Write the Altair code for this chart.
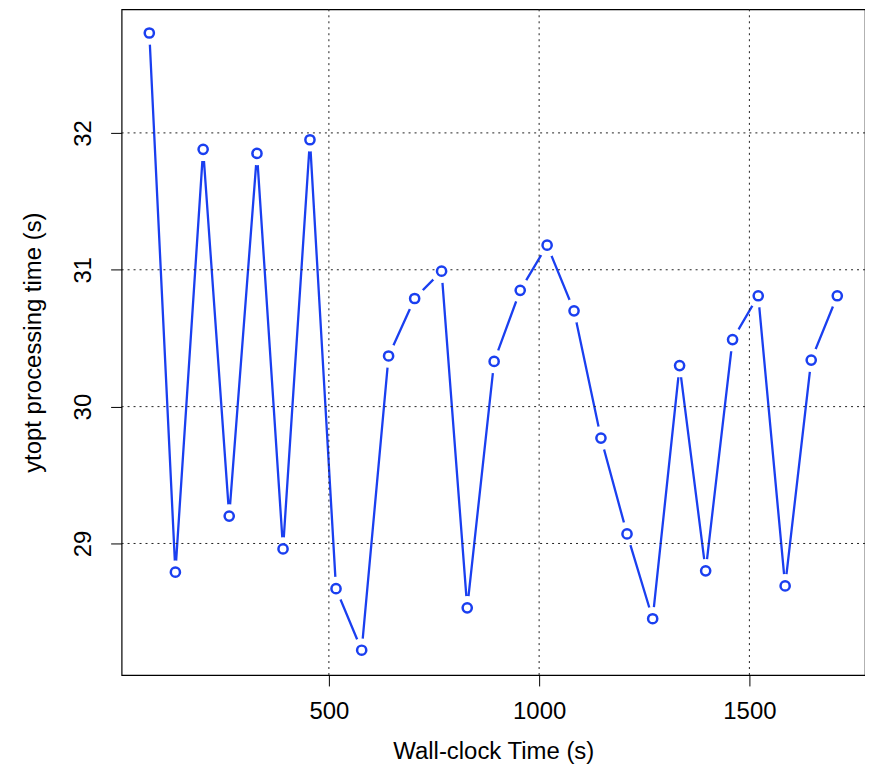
import altair as alt
import pandas as pd

wall_time = [73, 135, 201, 263, 329, 391, 455, 517, 578, 642, 704, 768, 829, 893,
             955, 1019, 1083, 1147, 1209, 1270, 1334, 1396, 1460, 1521, 1585, 1647, 1709]
proc_time = [32.73, 28.79, 31.88, 29.20, 31.85, 28.96, 31.95, 28.67, 28.22, 30.37,
             30.79, 30.99, 28.53, 30.33, 30.85, 31.18, 30.70, 29.77, 29.07, 28.45,
             30.30, 28.80, 30.49, 30.81, 28.69, 30.34, 30.81]
x_ticks = [500, 1000, 1500]
y_ticks = [29, 30, 31, 32]

df = pd.DataFrame({"t": wall_time, "p": proc_time})
gx = pd.DataFrame({"gx": x_ticks})
gy = pd.DataFrame({"gy": y_ticks})

BLUE = "#1a3ff0"
FONT = "Liberation Sans"
XT = "Wall-clock Time (s)"
YT = "ytopt processing time (s)"

xs = alt.Scale(domain=[7.1, 1774.9], nice=False, zero=False)
ys = alt.Scale(domain=[28.039, 32.903], nice=False, zero=False)

x_axis = alt.Axis(values=x_ticks, format="d", grid=False, domain=False, tickSize=11,
                  tickColor="black", labelPadding=14, titlePadding=16)
y_axis = alt.Axis(values=y_ticks, format="d", grid=False, domain=False, tickSize=11,
                  tickColor="black", labelAngle=270, labelPadding=15, titlePadding=26)


def X(f):
    return alt.X(f, scale=xs, title=XT, axis=x_axis)


def Y(f):
    return alt.Y(f, scale=ys, title=YT, axis=y_axis)


line = alt.Chart(df).mark_line(color=BLUE, strokeWidth=2.3).encode(x=X("t:Q"), y=Y("p:Q"))

mask = alt.Chart(df).mark_circle(color="white", size=560, opacity=1).encode(
    x=X("t:Q"), y=Y("p:Q"))

vgrid = alt.Chart(gx).mark_rule(color="#222222", strokeWidth=1, strokeDash=[2, 4]).encode(
    x=X("gx:Q"))
hgrid = alt.Chart(gy).mark_rule(color="#222222", strokeWidth=1, strokeDash=[2, 4]).encode(
    y=Y("gy:Q"))

points = alt.Chart(df).mark_point(shape="circle", filled=False, fill="white",
                                  stroke=BLUE, strokeWidth=2.5, size=85, opacity=1).encode(
    x=X("t:Q"), y=Y("p:Q"))

chart = alt.layer(line, mask, vgrid, hgrid, points).properties(
    width=746, height=668,
    autosize=alt.AutoSizeParams(type="none"),
    padding={"left": 114, "top": 0, "right": 0, "bottom": 90},
).configure_view(stroke="black", strokeWidth=1.2).configure_axis(
    labelFont=FONT, titleFont=FONT, labelFontSize=24, titleFontSize=24,
    labelColor="black", titleColor="black", titleFontWeight="normal", labelFlush=False,
)

chart.save("out.html", embed_options={"renderer": "svg", "actions": False})
